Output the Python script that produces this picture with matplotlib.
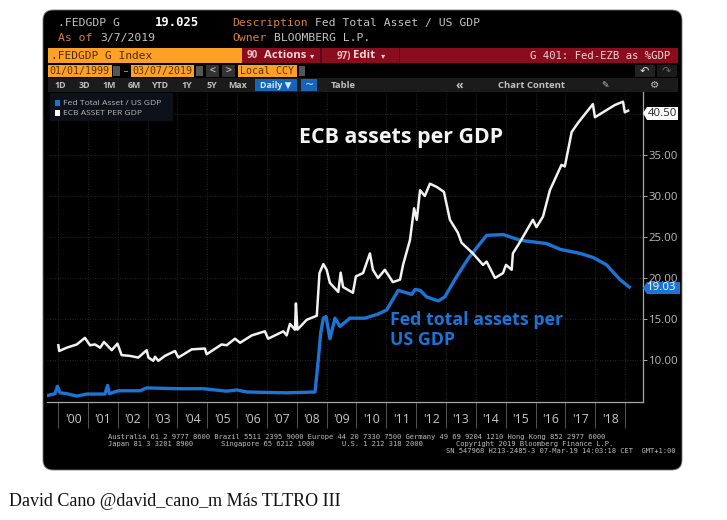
import matplotlib
matplotlib.use("Agg")
import matplotlib.pyplot as plt
from matplotlib.patches import FancyBboxPatch, Rectangle, Polygon

# ---------- data ----------
ecb_years = [2000.01,2000.04,2000.29,2000.63,2000.90,2001.07,2001.24,2001.41,2001.54,2001.80,2001.99,2002.13,2002.41,2002.69,2002.97,2003.03,2003.19,2003.25,2003.36,2003.58,2003.92,2004.03,2004.48,2004.92,2004.98,2005.48,2005.65,2005.93,2006.10,2006.49,2006.93,2007.04,2007.55,2007.66,2007.77,2007.94,2007.97,2008.02,2008.33,2008.67,2008.76,2008.89,2009.00,2009.11,2009.39,2009.47,2009.55,2009.88,2009.98,2010.22,2010.45,2010.55,2010.72,2010.95,2011.22,2011.46,2011.56,2011.79,2011.93,2012.02,2012.13,2012.29,2012.46,2012.69,2012.93,2013.13,2013.40,2013.52,2013.90,2014.24,2014.36,2014.64,2014.91,2015.01,2015.20,2015.24,2015.48,2015.91,2016.03,2016.25,2016.48,2016.87,2016.98,2017.21,2017.42,2017.92,2017.99,2018.66,2018.93,2018.99,2019.10]
ecb_values = [11.8,11.1,11.5,11.9,12.7,11.8,11.9,11.5,12.2,11.2,12.0,10.6,10.5,10.3,11.2,10.3,9.9,10.4,9.9,10.5,11.1,10.3,11.3,11.4,10.7,11.9,11.8,12.6,12.1,13.0,13.5,12.6,13.5,13.0,14.4,13.7,16.9,13.7,14.9,15.4,20.6,21.7,21.0,19.4,18.3,20.65,18.9,18.2,20.2,20.6,23.0,21.0,20.0,21.0,19.5,19.8,21.6,24.6,28.5,27.1,30.7,30.0,31.5,31.1,30.5,27.1,25.5,24.3,23.0,21.6,22.0,20.0,20.6,21.6,21.0,23.0,24.4,27.1,26.2,27.5,30.7,33.8,33.6,37.8,38.9,41.2,39.6,41.1,41.5,40.2,40.4]
fed_years = [1999.68,1999.90,1999.98,2000.07,2000.29,2000.63,2000.96,2001.57,2001.66,2001.72,2002.02,2002.75,2002.97,2003.98,2004.87,2005.65,2005.99,2006.32,2007.66,2008.61,2008.72,2008.80,2008.89,2008.98,2009.11,2009.28,2009.45,2009.78,2010.28,2010.72,2011.01,2011.40,2011.85,2011.96,2012.13,2012.35,2012.74,2012.96,2013.36,2013.75,2014.03,2014.36,2014.92,2015.48,2016.37,2016.82,2017.49,2017.93,2018.38,2018.83,2019.14]
fed_values = [5.7,5.9,6.8,6.0,5.9,5.6,5.85,5.85,6.9,5.9,6.25,6.25,6.6,6.5,6.5,6.2,6.35,6.1,6.0,6.1,10.0,13.3,15.1,15.3,12.6,15.1,14.1,15.1,15.1,15.6,16.1,18.5,18.0,18.6,18.5,17.7,17.2,17.7,20.2,22.4,23.7,25.2,25.3,24.6,24.2,23.5,23.0,22.5,21.6,19.8,18.9]
year_ticks = list(range(2000, 2020))
year_labels = ["'00","'01","'02","'03","'04","'05","'06","'07","'08","'09","'10","'11","'12","'13","'14","'15","'16","'17","'18"]
value_ticks = [10, 15, 20, 25, 30, 35, 40]
value_labels = ["10.00","15.00","20.00","25.00","30.00","35.00","40.00"]
ecb_last = "40.50"
fed_last = "19.03"

W, H = 727, 520
BLUE = "#1c74d6"
WHITE = "#f2f2f2"
ORANGE = "#fda126"
LORANGE = "#d9803a"
MAROON = "#8a0d1e"
GREY = "#c4c4c4"
MONO = "DejaVu Sans Mono"
SANS = "Open Sans"

fig = plt.figure(figsize=(W / 100, H / 100), dpi=100, facecolor="white")

# chrome layer in pixel coordinates
bg = fig.add_axes([0, 0, 1, 1], zorder=0)
bg.set_xlim(0, W); bg.set_ylim(H, 0); bg.axis("off")
top = fig.add_axes([0, 0, 1, 1], zorder=5)
top.set_xlim(0, W); top.set_ylim(H, 0); top.axis("off"); top.patch.set_alpha(0)

bg.add_patch(FancyBboxPatch((51, 18), 623, 444, boxstyle="round,pad=8,rounding_size=10",
                            fc="black", ec="#777777", lw=0.6))

def T(x, y, s, c=GREY, size=8.2, fam=MONO, w="normal", ha="left", ax=bg, **kw):
    ax.text(x, y, s, color=c, fontsize=size, family=fam, weight=w, ha=ha, va="center", **kw)

def R(x0, y0, x1, y1, c, ax=bg):
    ax.add_patch(Rectangle((x0, y0), x1 - x0, y1 - y0, fc=c, ec="none"))

# header lines
T(58, 23, ".FEDGDP G")
T(155, 23, "19.025", "white", 8.8, w="bold")
T(232, 23, "Description", LORANGE)
T(315, 23, "Fed Total Asset / US GDP")
T(58, 38, "As of", LORANGE)
T(100, 38, "3/7/2019")
T(232, 38, "Owner", LORANGE)
T(274, 38, "BLOOMBERG L.P.")

# command bar
R(48, 48, 242, 63, ORANGE)
T(51, 56, ".FEDGDP G Index", "#4a2c05", 8.1)
R(242, 48, 678, 63, MAROON)
R(320, 48, 322, 63, "#5c0814")
R(399, 48, 400, 63, "#5c0814")
T(247, 56, "90", "#e8c0c0", 7, SANS, "bold")
T(264, 55.5, "Actions", "#f0d8d8", 8.2, SANS, "bold")
T(312, 56, "▾", "#f0d8d8", 6, "DejaVu Sans", ha="center")
T(337, 56, "97)", "#e8c0c0", 7, SANS, "bold")
T(353, 55.5, "Edit", "#f0d8d8", 8.2, SANS, "bold")
T(383, 56, "▾", "#f0d8d8", 6, "DejaVu Sans", ha="center")
T(670, 56, "G 401: Fed-EZB as %GDP", "#ecd4d4", 7.7, ha="right")

# date row
R(48, 65, 112, 77, ORANGE)
T(49, 71, "01/01/1999", "#5a3506", 7.2)
R(113, 66, 120, 76, "#555555")
R(124, 70.5, 128, 71.5, "#888888")
R(131, 65, 194, 77, ORANGE)
T(132, 71, "03/07/2019", "#5a3506", 7.2)
R(196, 66, 203, 76, "#555555")
R(206, 65, 219, 77, "#333333")
R(222, 65, 235, 77, "#333333")
T(212.5, 71, "<", "#cccccc", 7, ha="center")
T(228.5, 71, ">", "#cccccc", 7, ha="center")
R(238, 65, 297, 77, ORANGE)
T(240, 71, "Local CCY", "#5a3506", 7.2)
R(299, 66, 305, 76, "#555555")
R(635, 65, 655, 77, "#222222")
R(657, 65, 677, 77, "#1a1a1a")
T(644, 71, "↶", "#dddddd", 8, "DejaVu Sans", ha="center")
T(666, 71, "↷", "#666666", 8, "DejaVu Sans", ha="center")

# toolbar
R(48, 78, 678, 92, "#1b1b1b")
for x, s in zip([60, 84, 109, 134, 161, 187, 212, 238],
                ["1D", "3D", "1M", "6M", "YTD", "1Y", "5Y", "Max"]):
    T(x, 85, s, "#c0c0c0", 6.4, SANS, "bold", ha="center")
R(255, 79, 297, 91, "#1565b8")
T(276, 85, "Daily ▼", "#d8e8f8", 6.4, ["Open Sans", "DejaVu Sans"], "bold", ha="center")
R(301, 79, 317, 91, "#1565b8")
T(309, 85, "~", "#d8e8f8", 8, "DejaVu Sans", ha="center")
T(343, 85, "Table", "#c0c0c0", 6.8, SANS, "bold", ha="center")
T(459, 85, "«", "#c0c0c0", 9, SANS, "bold", ha="center")
T(532, 85, "Chart Content", "#c0c0c0", 6.8, SANS, "bold", ha="center")
T(605, 85, "✎", "#c0c0c0", 6.5, "DejaVu Sans", ha="center")
T(655, 85, "⚙", "#c0c0c0", 7.5, "DejaVu Sans", ha="center")

# ---------- chart ----------
X0, X1, Y0, Y1 = 47, 643, 92, 402
ax = fig.add_axes([X0 / W, 1 - Y1 / H, (X1 - X0) / W, (Y1 - Y0) / H], zorder=2)
ax.set_facecolor("none")
ax.set_xlim(1999.63, 2019.60)
ax.set_ylim(4.88, 42.68)
ax.plot(fed_years, fed_values, color=BLUE, lw=2.4, solid_joinstyle="round")
ax.plot(ecb_years, ecb_values, color=WHITE, lw=1.8, solid_joinstyle="round")

ax.yaxis.tick_right()
ax.set_yticks(value_ticks)
ax.set_yticklabels(value_labels, color="#bdbdbd", fontsize=8.2, family=SANS)
ax.tick_params(axis="y", length=3, width=0.7, color="#aaaaaa", pad=1)
ax.set_xticks(year_ticks)
ax.set_xticklabels([])
ax.tick_params(axis="x", which="major", length=18.5, width=0.7, color="#555555")
ax.set_xticks([y + 0.5 for y in year_ticks[:-1]], minor=True)
ax.set_xticklabels(year_labels, minor=True, color="#c8c8c8", fontsize=8.8, family=SANS)
ax.tick_params(axis="x", which="minor", length=0, pad=8)
ax.grid(True, which="major", color="#333333", lw=0.6, ls=(0, (1, 2)))
for s in ["top", "left"]:
    ax.spines[s].set_visible(False)
for s in ["right", "bottom"]:
    ax.spines[s].set_color("#a8a8a8")
    ax.spines[s].set_linewidth(0.9)

# legend
R(50, 93, 173, 121, "#0d1119", ax=top)
R(54.5, 100, 60, 106, BLUE, ax=top)
R(54.5, 110, 60, 116, "white", ax=top)
T(63, 103.5, "Fed Total Asset / US GDP", "#b8b8b8", 6.1, SANS, ax=top)
T(63, 113.5, "ECB ASSET PER GDP", "#b8b8b8", 6.1, SANS, ax=top)

# last-value tags
top.add_patch(Polygon([(643, 113), (647, 107), (678, 107), (678, 120), (647, 120)], fc="white", ec="none"))
T(662, 113.5, ecb_last, "#222222", 8.2, SANS, ha="center", ax=top)
top.add_patch(Polygon([(643, 288), (647, 282), (680, 282), (680, 294), (647, 294)], fc=BLUE, ec="none"))
T(662, 288, fed_last, "white", 8.2, SANS, ha="center", ax=top)

# annotations
T(299, 138, "ECB assets per GDP", "#f4f4f4", 15.4, SANS, "bold", ax=top)
T(390, 320, "Fed total assets per", BLUE, 12.8, SANS, "bold", ax=top)
T(390, 340, "US GDP", BLUE, 12.8, SANS, "bold", ax=top)

# footer
T(108, 437, "Australia 61 2 9777 8600 Brazil 5511 2395 9000 Europe 44 20 7330 7500 Germany 49 69 9204 1210 Hong Kong 852 2977 6000", "#bdbdbd", 5.15)
T(108, 444, "Japan 81 3 3201 8900", "#bdbdbd", 5.15)
T(221, 444, "Singapore 65 6212 1000", "#bdbdbd", 5.15)
T(342, 444, "U.S. 1 212 318 2000", "#bdbdbd", 5.15)
T(456, 444, "Copyright 2019 Bloomberg Finance L.P.", "#bdbdbd", 5.15)
T(675, 451, "SN 547968 H213-2485-3 07-Mar-19 14:03:18 CET  GMT+1:00", "#bdbdbd", 5.15, ha="right")

# caption
T(9, 502, "David Cano @david_cano_m Más TLTRO III", "#111111", 13.0, "Liberation Serif")

fig.savefig("out.png", dpi=100, facecolor="white")
